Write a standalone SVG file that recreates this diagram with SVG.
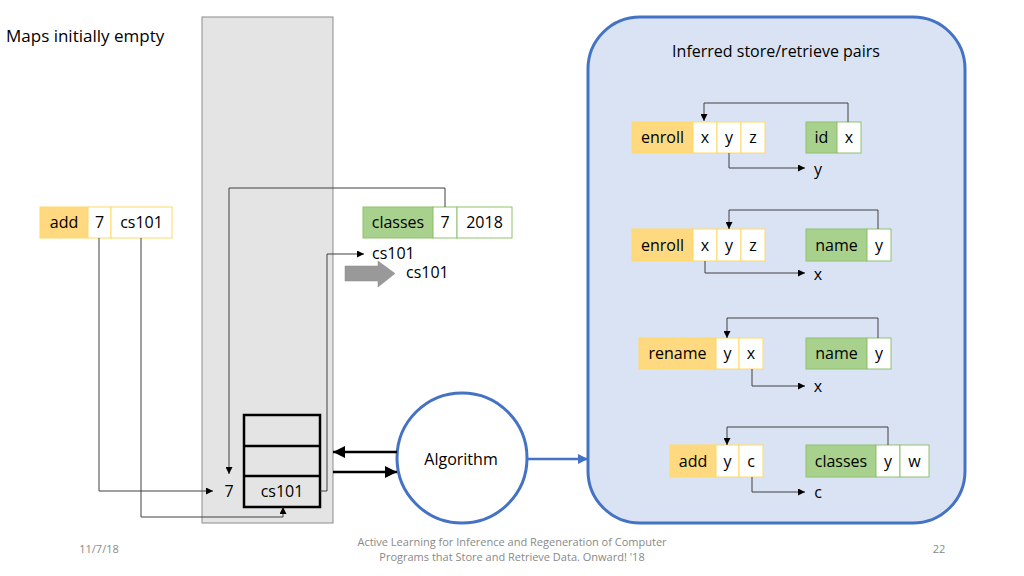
<svg xmlns="http://www.w3.org/2000/svg" width="1024" height="576" viewBox="0 0 1024 576">
<defs>
<style>
text{font-family:"Open Sans","Liberation Sans",sans-serif;fill:#000;}
.t{font-size:16px;}
.m{text-anchor:middle;}
.or{fill:#FFD97F;stroke:#FFD966;stroke-width:1;}
.gr{fill:#A9D18E;stroke:#8FC16F;stroke-width:1;}
.wo{fill:#fff;stroke:#FFD966;stroke-width:1;}
.wg{fill:#fff;stroke:#8FC16F;stroke-width:1;}
.c{fill:none;stroke:#404040;stroke-width:1;}
.ft{font-size:11px;fill:#898989;}
</style>
<marker id="a" viewBox="0 0 10 10" refX="10" refY="5" markerWidth="7" markerHeight="7" markerUnits="userSpaceOnUse" orient="auto"><path d="M0,0 L10,5 L0,10 z" fill="#000"/></marker>
<marker id="ab" viewBox="0 0 10 10" refX="10" refY="5" markerWidth="12" markerHeight="12" markerUnits="userSpaceOnUse" orient="auto"><path d="M0,0 L10,5 L0,10 z" fill="#000"/></marker>
<marker id="abl" viewBox="0 0 10 10" refX="10" refY="5" markerWidth="10" markerHeight="10" markerUnits="userSpaceOnUse" orient="auto"><path d="M0,0 L10,5 L0,10 z" fill="#4472C4"/></marker>
</defs>
<rect width="1024" height="576" fill="#fff"/>

<text x="6" y="42" style="font-size:17px">Maps initially empty</text>

<g id="memory">
<rect x="202" y="17" width="131" height="506" fill="#E4E4E4" stroke="#8C8C8C" stroke-width="1"/>
</g>

<g id="table">
<rect x="244" y="415" width="76" height="92" fill="none" stroke="#000" stroke-width="2.5"/>
<line x1="244" y1="446" x2="320" y2="446" stroke="#000" stroke-width="2.5"/>
<line x1="244" y1="476" x2="320" y2="476" stroke="#000" stroke-width="2.5"/>
<text x="282" y="497" class="t m">cs101</text>
<text x="229" y="497" class="t m">7</text>
</g>

<g id="add-call">
<rect x="40" y="207" width="48" height="31" class="or"/>
<rect x="88" y="207" width="23" height="31" class="wo"/>
<rect x="111" y="207" width="61" height="31" class="wo"/>
<text x="64" y="228" class="t m">add</text>
<text x="99.5" y="228" class="t m">7</text>
<text x="141.5" y="228" class="t m">cs101</text>
</g>

<g id="classes-call">
<rect x="363" y="207" width="70" height="31" class="gr"/>
<rect x="433" y="207" width="24" height="31" class="wg"/>
<rect x="457" y="207" width="55" height="31" class="wg"/>
<text x="398" y="228" class="t m">classes</text>
<text x="445" y="228" class="t m">7</text>
<text x="484.5" y="228" class="t m">2018</text>
</g>

<g id="result">
<text x="372" y="259" class="t">cs101</text>
<path d="M345,266 H378 V261 L395,273.5 L378,287 V281 H345 z" fill="#999" stroke="#8a8a8a" stroke-width="0.5"/>
<text x="406" y="278" class="t">cs101</text>
</g>

<g id="algorithm">
<circle cx="462" cy="458" r="65" fill="#fff" stroke="#4472C4" stroke-width="3"/>
<text x="461" y="465" class="t m">Algorithm</text>
</g>

<g id="pairs-panel">
<rect x="588" y="17" width="377" height="506" rx="52" ry="52" fill="#DAE3F3" stroke="#4472C4" stroke-width="3"/>
<text x="776" y="57" class="t m">Inferred store/retrieve pairs</text>
</g>

<g id="pair1">
<rect x="632" y="122" width="61" height="31" class="or"/>
<rect x="693" y="122" width="24" height="31" class="wo"/>
<rect x="717" y="122" width="24" height="31" class="wo"/>
<rect x="741" y="122" width="24" height="31" class="wo"/>
<text x="662.5" y="143" class="t m">enroll</text>
<text x="705" y="143" class="t m">x</text>
<text x="729" y="143" class="t m">y</text>
<text x="753" y="143" class="t m">z</text>
<rect x="806" y="122" width="31" height="31" class="gr"/>
<rect x="837" y="122" width="24" height="31" class="wg"/>
<text x="821.5" y="143" class="t m">id</text>
<text x="849" y="143" class="t m">x</text>
<text x="818" y="175" class="t m">y</text>
</g>

<g id="pair2">
<rect x="632" y="229" width="61" height="32" class="or"/>
<rect x="693" y="229" width="24" height="32" class="wo"/>
<rect x="717" y="229" width="24" height="32" class="wo"/>
<rect x="741" y="229" width="24" height="32" class="wo"/>
<text x="662.5" y="251" class="t m">enroll</text>
<text x="705" y="251" class="t m">x</text>
<text x="729" y="251" class="t m">y</text>
<text x="753" y="251" class="t m">z</text>
<rect x="806" y="229" width="61" height="32" class="gr"/>
<rect x="867" y="229" width="24" height="32" class="wg"/>
<text x="836.5" y="251" class="t m">name</text>
<text x="879" y="251" class="t m">y</text>
<text x="818" y="280" class="t m">x</text>
</g>

<g id="pair3">
<rect x="639" y="338" width="77" height="31" class="or"/>
<rect x="716" y="338" width="23" height="31" class="wo"/>
<rect x="739" y="338" width="24" height="31" class="wo"/>
<text x="677.5" y="359" class="t m">rename</text>
<text x="727.5" y="359" class="t m">y</text>
<text x="751" y="359" class="t m">x</text>
<rect x="806" y="338" width="61" height="31" class="gr"/>
<rect x="867" y="338" width="24" height="31" class="wg"/>
<text x="836.5" y="359" class="t m">name</text>
<text x="879" y="359" class="t m">y</text>
<text x="818" y="392" class="t m">x</text>
</g>

<g id="pair4">
<rect x="670" y="445" width="46" height="32" class="or"/>
<rect x="716" y="445" width="23" height="32" class="wo"/>
<rect x="739" y="445" width="24" height="32" class="wo"/>
<text x="693" y="467" class="t m">add</text>
<text x="727.5" y="467" class="t m">y</text>
<text x="751" y="467" class="t m">c</text>
<rect x="806" y="445" width="70" height="32" class="gr"/>
<rect x="876" y="445" width="24" height="32" class="wg"/>
<rect x="900" y="445" width="29" height="32" class="wg"/>
<text x="841" y="467" class="t m">classes</text>
<text x="888" y="467" class="t m">y</text>
<text x="914.5" y="467" class="t m">w</text>
<text x="818" y="498" class="t m">c</text>
</g>

<g id="connectors">
<polyline class="c" points="445,207 445,188 229,188 229,474" marker-end="url(#a)"/>
<polyline class="c" points="99,238 99,491 213,491" marker-end="url(#a)"/>
<polyline class="c" points="141,238 141,517 283,517 283,507" marker-end="url(#a)"/>
<polyline class="c" points="320,491 327,491 327,254 364,254" marker-end="url(#a)"/>
<line x1="397" y1="452" x2="333" y2="452" stroke="#000" stroke-width="2.5" marker-end="url(#ab)"/>
<line x1="333" y1="472" x2="397" y2="472" stroke="#000" stroke-width="2.5" marker-end="url(#ab)"/>
<line x1="527" y1="459" x2="588" y2="459" stroke="#4472C4" stroke-width="2.5" marker-end="url(#abl)"/>
<polyline class="c" points="848,122 848,103 704,103 704,121" marker-end="url(#a)"/>
<polyline class="c" points="729,153 729,168 805,168" marker-end="url(#a)"/>
<polyline class="c" points="878,229 878,210 729,210 729,229" marker-end="url(#a)"/>
<polyline class="c" points="705,261 705,273 805,273" marker-end="url(#a)"/>
<polyline class="c" points="878,338 878,318 727,318 727,338" marker-end="url(#a)"/>
<polyline class="c" points="752,369 752,386 805,386" marker-end="url(#a)"/>
<polyline class="c" points="888,445 888,427 727,427 727,445" marker-end="url(#a)"/>
<polyline class="c" points="752,477 752,492 805,492" marker-end="url(#a)"/>
</g>

<g id="footer">
<text x="99" y="553" class="ft m">11/7/18</text>
<text x="512" y="546" class="ft m">Active Learning for Inference and Regeneration of Computer</text>
<text x="512" y="561" class="ft m">Programs that Store and Retrieve Data. Onward! '18</text>
<text x="939" y="553" class="ft m">22</text>
</g>
</svg>
